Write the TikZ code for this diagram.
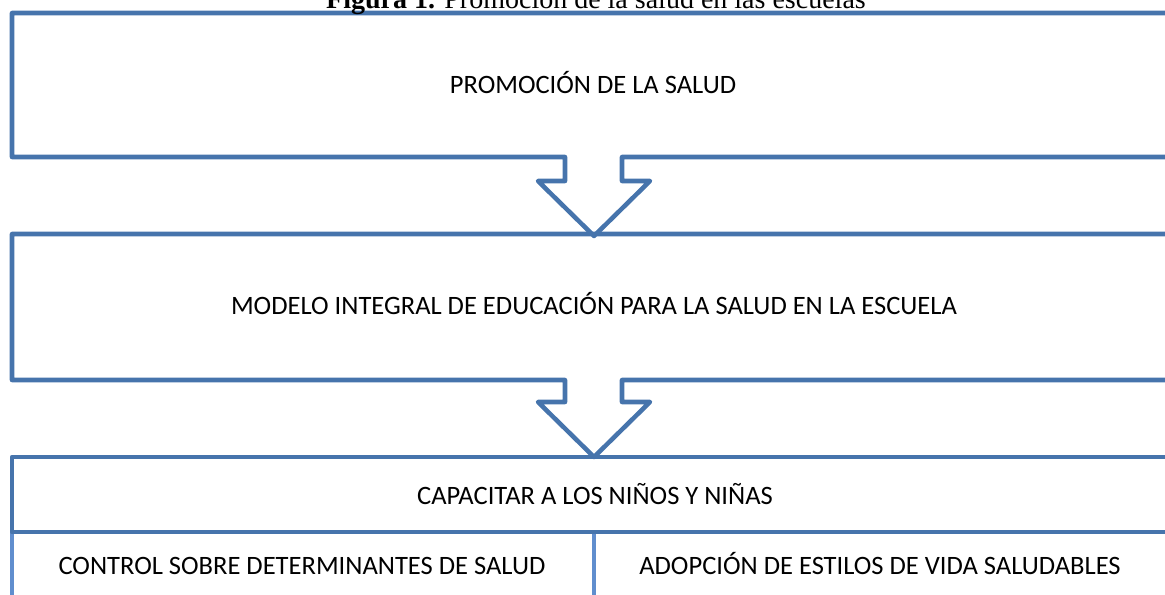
\documentclass[tikz,border=0pt]{standalone}
\usepackage{fontspec}
\setmainfont{Carlito}
\newfontfamily\capfont{Liberation Serif}
\definecolor{boxblue}{RGB}{70,116,172}
\definecolor{tabblue}{RGB}{96,142,206}
\begin{document}
\begin{tikzpicture}[x=0.75pt,y=-0.75pt,
  boxline/.style={draw=boxblue,line width=3.4pt,line join=round},
  tabline/.style={draw=tabblue,line width=2.8pt},
  body/.style={font=\fontsize{19.9}{23}\selectfont,inner sep=0pt,anchor=base},
  captext/.style={font=\capfont\fontsize{21}{24}\selectfont,inner sep=0pt,anchor=base}]
\useasboundingbox (0,0) rectangle (1165,594);
\clip (0,0) rectangle (1165,594);
% box 1 with arrow notch
\draw[boxline] (1190,13) -- (12,13) -- (12,157) -- (565,157) -- (565,181) -- (538,181)
  -- (594,236) -- (650,181) -- (622,181) -- (622,157) -- (1190,157);
% box 2 with arrow notch
\draw[boxline] (1190,234) -- (12,234) -- (12,380) -- (565,380) -- (565,402) -- (538,402)
  -- (594,457) -- (650,402) -- (622,402) -- (622,380) -- (1190,380);
% table lower part
\draw[tabline] (12,532) -- (12,600);
\draw[tabline] (594,532) -- (594,600);
% box 3
\draw[boxline] (1190,457) -- (12,457) -- (12,532) -- (1190,532);
% texts
\node[captext] (title) at (596,8) {\textbf{Figura 1.} Promoción de la salud en las escuelas};
\node[body] (promo) at (593,93) {PROMOCIÓN DE LA SALUD};
\node[body] (modelo) at (594,314) {MODELO INTEGRAL DE EDUCACIÓN PARA LA SALUD EN LA ESCUELA};
\node[body] (capac) at (595,504) {CAPACITAR A LOS NIÑOS Y NIÑAS};
\node[body] (control) at (302,574) {CONTROL SOBRE DETERMINANTES DE SALUD};
\node[body] (adop) at (880,574) {ADOPCIÓN DE ESTILOS DE VIDA SALUDABLES};
\end{tikzpicture}
\end{document}
